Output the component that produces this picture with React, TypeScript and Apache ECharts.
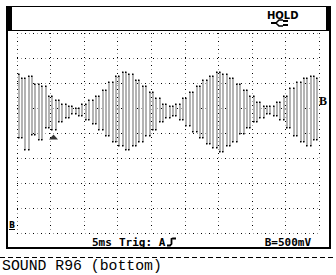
import React, { useEffect, useRef } from "react";
import * as echarts from "echarts";

// Channel B samples (volts), one every 0.5 ms
const SAMPLE_MS = 0.5;
const voltsB = [
  3.18, 1.9, 3.1, 1.66, 3.14, 1.96, 2.98, 1.86, 2.94, 2.1,
  2.74, 2.06, 2.66, 2.22, 2.58, 2.3, 2.54, 2.38, 2.5, 2.34,
  2.58, 2.26, 2.66, 2.18, 2.74, 2.06, 2.86, 1.94, 3.02, 1.82,
  3.14, 1.74, 3.22, 1.66, 3.18, 1.74, 3.06, 1.82, 2.94, 1.94,
  2.82, 2.06, 2.7, 2.22, 2.58, 2.3, 2.54, 2.34, 2.58, 2.26,
  2.7, 2.14, 2.82, 2.02, 2.94, 1.9, 3.06, 1.78, 3.14, 1.7,
  3.22, 1.62, 3.18, 1.74, 3.1, 1.82, 2.98, 1.98, 2.86, 2.1,
  2.74, 2.22, 2.62, 2.3, 2.54, 2.38, 2.54, 2.34, 2.62, 2.26,
  2.74, 2.1, 2.9, 1.94, 3.02, 1.82, 3.1, 1.74, 3.14, 1.86,
  3.1,
];

// Axis ranges: 5 ms/div x 9 div, 500 mV/div x 8 div
const TIME_RANGE_MS = [0, 45];
const TIME_DIV_MS = 5;
const VOLT_RANGE = [0, 4];
const VOLT_DIV = 0.5;

// Trigger point (ms, V)
const TRIGGER = [5.44, 1.92];

const HOLD_TEXT = "HOLD";
const TIMEBASE_TEXT = "5ms";
const TRIG_TEXT = "Trig: A";
const SCALE_TEXT = "B=500mV";
const CHANNEL_TEXT = "B";
const CAPTION = "SOUND R96 (bottom)";

const W = 336;
const H = 275;

export default function App() {
  const ref = useRef<HTMLDivElement>(null);

  useEffect(() => {
    if (!ref.current) return;
    const chart = echarts.init(ref.current, null, { renderer: "svg" });

    // each trace segment joins sample i to sample i+1
    const segments = voltsB.slice(0, -1).map((v, i) => [
      (i + 0.5) * SAMPLE_MS,
      v,
      voltsB[i + 1],
    ]);

    const dotted = (color: string, offset: number) => ({
      show: true,
      lineStyle: { color, width: 1, type: [1, 7], dashOffset: offset },
    });

    const hiddenAxis = {
      axisLine: { show: false },
      axisTick: { show: false },
      axisLabel: { show: false },
    };

    const statusFont = {
      fontFamily: "DejaVu Sans Mono",
      fontWeight: "bold",
      fontSize: 11,
      fill: "#000",
    };

    chart.setOption({
      animation: false,
      backgroundColor: "#fff",
      grid: { left: 17, top: 33, width: 302, height: 200 },
      xAxis: [
        {
          type: "value",
          min: TIME_RANGE_MS[0],
          max: TIME_RANGE_MS[1],
          interval: TIME_DIV_MS,
          ...hiddenAxis,
          splitLine: dotted("#000", 0),
        },
        {
          type: "value",
          position: "top",
          min: TIME_RANGE_MS[0],
          max: TIME_RANGE_MS[1],
          interval: TIME_DIV_MS,
          ...hiddenAxis,
          splitLine: dotted("#999", 4),
        },
      ],
      yAxis: [
        {
          type: "value",
          min: VOLT_RANGE[0],
          max: VOLT_RANGE[1],
          interval: VOLT_DIV,
          ...hiddenAxis,
          splitLine: dotted("#000", 0),
        },
        {
          type: "value",
          position: "right",
          min: VOLT_RANGE[0],
          max: VOLT_RANGE[1],
          interval: VOLT_DIV,
          ...hiddenAxis,
          splitLine: dotted("#999", 4),
        },
      ],
      series: [
        {
          type: "custom",
          xAxisIndex: 0,
          yAxisIndex: 0,
          data: segments,
          encode: { x: 0, y: [1, 2] },
          renderItem: (params: any, api: any) => {
            const t = api.value(0);
            const a = api.coord([t, api.value(1)]);
            const b = api.coord([t, api.value(2)]);
            const x = Math.round(a[0]);
            const top = Math.min(a[1], b[1]);
            const bot = Math.max(a[1], b[1]);
            return {
              type: "group",
              children: [
                {
                  type: "rect",
                  shape: { x: x - 1, y: top, width: 2, height: bot - top },
                  style: { fill: "#b4b4b4" },
                },
                {
                  type: "rect",
                  shape: { x: x - 1, y: top - 0.5, width: 1.5, height: 1.5 },
                  style: { fill: "#000" },
                },
                {
                  type: "rect",
                  shape: { x: x - 1, y: bot - 1, width: 1.5, height: 1.5 },
                  style: { fill: "#000" },
                },
              ],
            };
          },
          z: 3,
        },
        {
          type: "scatter",
          xAxisIndex: 0,
          yAxisIndex: 0,
          data: [TRIGGER],
          symbol: "triangle",
          symbolSize: [9, 5],
          itemStyle: { color: "#000" },
          z: 4,
        },
      ],
      graphic: [
        // frame
        { type: "rect", shape: { x: 6, y: 6, width: 325, height: 1 }, style: { fill: "#000" } },
        { type: "rect", shape: { x: 6, y: 6, width: 6, height: 25 }, style: { fill: "#000" } },
        { type: "rect", shape: { x: 326, y: 6, width: 5, height: 25 }, style: { fill: "#000" } },
        { type: "rect", shape: { x: 6, y: 30, width: 325, height: 1 }, style: { fill: "#000" } },
        { type: "rect", shape: { x: 6, y: 30, width: 2, height: 219 }, style: { fill: "#000" } },
        { type: "rect", shape: { x: 329, y: 30, width: 2, height: 219 }, style: { fill: "#000" } },
        { type: "rect", shape: { x: 6, y: 247, width: 325, height: 2 }, style: { fill: "#000" } },
        // dashed separator
        {
          type: "line",
          shape: { x1: 0, y1: 257.5, x2: W, y2: 257.5 },
          style: { stroke: "#000", lineWidth: 1, lineDash: [5, 3] },
        },
        // HOLD and plug icon
        {
          type: "text",
          x: 267,
          y: 10,
          style: {
            text: HOLD_TEXT,
            fontFamily: "DejaVu Sans",
            fontWeight: "bold",
            fontSize: 10,
            fill: "#000",
          },
        },
        { type: "rect", shape: { x: 271, y: 22, width: 6, height: 2 }, style: { fill: "#000" } },
        {
          type: "polyline",
          shape: { points: [[283, 20], [279, 20], [276, 23], [279, 26], [283, 26]] },
          style: { stroke: "#000", lineWidth: 1.5, fill: "none" },
        },
        { type: "rect", shape: { x: 283, y: 20, width: 5, height: 2 }, style: { fill: "#000" } },
        { type: "rect", shape: { x: 283, y: 24, width: 5, height: 2 }, style: { fill: "#000" } },
        // status line
        {
          type: "text",
          x: 92,
          y: 242,
          style: { ...statusFont, text: TIMEBASE_TEXT, verticalAlign: "middle" },
        },
        {
          type: "text",
          x: 119,
          y: 242,
          style: { ...statusFont, text: TRIG_TEXT, verticalAlign: "middle" },
        },
        {
          type: "polyline",
          shape: { points: [[167, 245.5], [170, 245.5], [171.5, 244], [171.5, 239], [173, 238.5], [176, 238.5]] },
          style: { stroke: "#000", lineWidth: 1.8, fill: "none" },
        },
        {
          type: "text",
          x: 311,
          y: 242,
          style: { ...statusFont, text: SCALE_TEXT, align: "right", verticalAlign: "middle" },
        },
        // channel markers
        {
          type: "text",
          x: 319,
          y: 101,
          style: {
            text: CHANNEL_TEXT,
            fontFamily: "Liberation Serif",
            fontWeight: "bold",
            fontSize: 12,
            fill: "#000",
            verticalAlign: "middle",
          },
        },
        {
          type: "text",
          x: 9,
          y: 225.5,
          style: {
            text: CHANNEL_TEXT,
            fontFamily: "DejaVu Sans",
            fontWeight: "bold",
            fontSize: 8,
            fill: "#000",
            verticalAlign: "middle",
          },
        },
        { type: "rect", shape: { x: 9, y: 229, width: 6, height: 1 }, style: { fill: "#000" } },
        // caption
        {
          type: "text",
          x: 2,
          y: 266,
          style: {
            text: CAPTION,
            fontFamily: "Liberation Mono",
            fontSize: 14.8,
            fill: "#000",
            verticalAlign: "middle",
          },
        },
      ],
    });
    return () => chart.dispose();
  }, []);

  return (
    <div
      ref={ref}
      style={{ position: "absolute", left: 0, top: 0, width: W, height: H }}
    />
  );
}
